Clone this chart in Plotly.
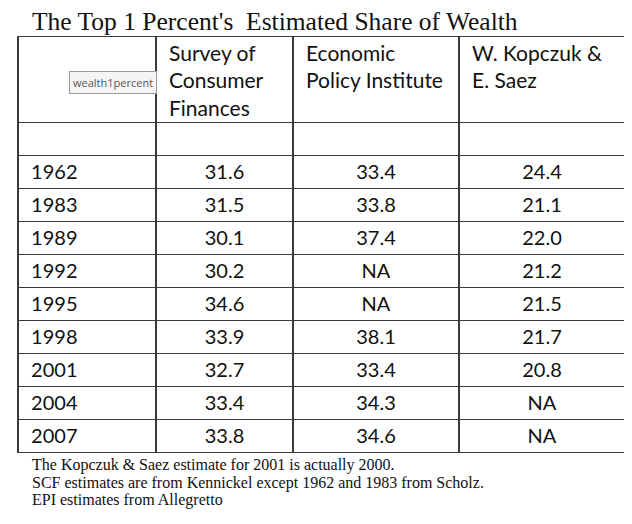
import plotly.graph_objects as go

years = [1962, 1983, 1989, 1992, 1995, 1998, 2001, 2004, 2007]
scf = [31.6, 31.5, 30.1, 30.2, 34.6, 33.9, 32.7, 33.4, 33.8]
epi = [33.4, 33.8, 37.4, None, None, 38.1, 33.4, 34.3, 34.6]
kopczuk_saez = [24.4, 21.1, 22.0, 21.2, 21.5, 21.7, 20.8, None, None]

headers = ["", "Survey of<br>Consumer<br>Finances", "Economic<br>Policy Institute",
           "W. Kopczuk &<br>E. Saez"]
title = "The Top 1 Percent's  Estimated Share of Wealth"
notes = [
    "The Kopczuk & Saez estimate for 2001 is actually 2000.",
    "SCF estimates are from Kennickel except 1962 and 1983 from Scholz.",
    "EPI estimates from Allegretto",
]
tag = "wealth1percent"

# page body keeps its default 8px margin, so the figure is 8px smaller
OFF = 8
W, H = 632 - OFF, 524 - OFF


def px(x):
    return (x - OFF) / W


def py(y):
    return 1 - (y - OFF) / H


def fmt(v):
    return "NA" if v is None else f"{v:.1f}"


# first body row is blank in the original
col0 = [""] + ["\u00a0" + str(y) for y in years]
col1 = [""] + [fmt(v) for v in scf]
col2 = [""] + [fmt(v) for v in epi]
col3 = [""] + [fmt(v) for v in kopczuk_saez]

line_col = "#3a3a3a"
sans = "Lato, Open Sans, sans-serif"
serif = "Liberation Serif, Times New Roman, serif"
col_left = [18, 156, 293, 459]

fig = go.Figure(go.Table(
    domain=dict(x=[px(18), px(625)], y=[0, py(36.5)]),
    columnwidth=[138, 137, 166, 166],
    header=dict(
        values=[""] * len(headers),
        height=86,
        fill_color="white",
        line=dict(color=line_col, width=1.6),
    ),
    cells=dict(
        values=[col0, col1, col2, col3],
        align=["left", "center", "center", "center"],
        height=33,
        font=dict(family=sans, size=20, color="#111"),
        fill_color="white",
        line=dict(color=line_col, width=1.6),
    ),
))

# header labels drawn on top of the (empty) header row so it keeps its height
for x0, h in zip(col_left, headers):
    if not h:
        continue
    fig.add_annotation(
        text=h, xref="paper", yref="paper", x=px(x0 + 11), y=py(38),
        xanchor="left", yanchor="top", align="left", showarrow=False,
        font=dict(family=sans, size=21, color="#111"),
    )

fig.add_annotation(
    text=title, xref="paper", yref="paper", x=px(30), y=py(21),
    xanchor="left", yanchor="middle", showarrow=False,
    font=dict(family=serif, size=25.5, color="#111"),
)

for i, note in enumerate(notes):
    fig.add_annotation(
        text=note, xref="paper", yref="paper", x=px(30), y=py(465 + 17.5 * i),
        xanchor="left", yanchor="middle", showarrow=False,
        font=dict(family=serif, size=16, color="#111"),
    )

# the little hover tag sitting over the header
fig.add_annotation(
    text=tag, xref="paper", yref="paper", x=px(113), y=py(82),
    xanchor="center", yanchor="middle", showarrow=False,
    font=dict(family="Open Sans, sans-serif", size=11, color="#555"),
    bgcolor="#f5f5f5", bordercolor="#9a9a9a", borderwidth=1, borderpad=3,
)

fig.update_layout(
    width=W, height=H,
    margin=dict(l=0, r=0, t=0, b=0),
    paper_bgcolor="white",
    showlegend=False,
)

fig.write_html("out.html")
